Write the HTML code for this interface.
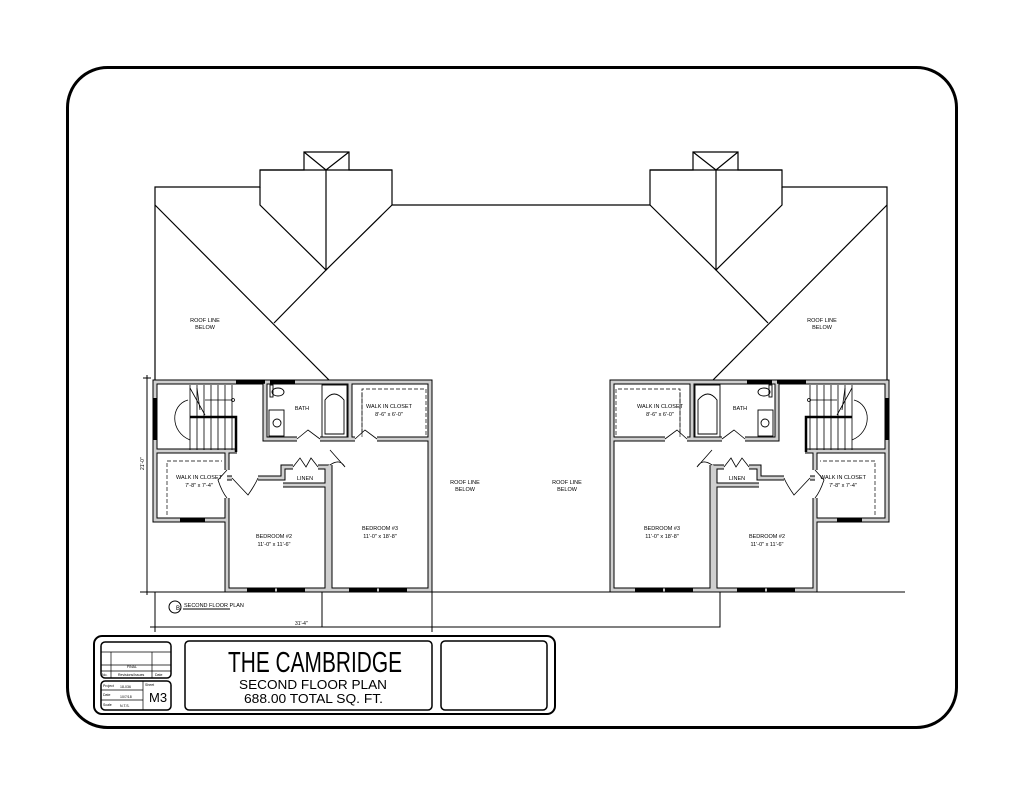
<!DOCTYPE html>
<html><head><meta charset="utf-8"><style>
html,body{margin:0;padding:0;background:#fff;}
svg{display:block;}
text{font-family:"Liberation Sans",sans-serif;fill:#000;}
</style></head><body>
<svg width="1024" height="791" viewBox="0 0 1024 791" xmlns="http://www.w3.org/2000/svg">
<defs>
<g id="half" fill="none" stroke="#000">
  <g stroke-width="1.2">
    <path d="M155,382 V187 H260 V170 H304 V152 H349 V170 H392 V205 H521"/>
    <path d="M260,170 H392"/>
    <path d="M304,152 L326,170 L349,152"/>
    <path d="M260,187 V205 L326,270 L392,205"/>
    <path d="M326,170 V270 L274,323"/>
    <path d="M155,205 L331,382"/>
  </g>
  <g stroke="#000" stroke-width="5">
    <path d="M155,382 H430 V590 H227 V520 H155 Z"/>
    <path d="M155,451 H237"/>
    <path d="M227,451 V470 M227,498 V520"/>
    <path d="M227,478 H232 M258,478 H283 V467 H293 M318,467 H327 V590"/>
    <path d="M283,485 H327"/>
    <path d="M265,382 V439 H297 M320,439 H355 M377,439 H430"/>
    <path d="M350,382 V439"/>
    <path d="M330,465 V590"/>
  </g>
  <g stroke="#cfcfcf" stroke-width="3">
    <path d="M155,382 H430 V590 H227 V520 H155 Z"/>
    <path d="M155,451 H237"/>
    <path d="M227,451 V470 M227,498 V520"/>
    <path d="M227,478 H232 M258,478 H283 V467 H293 M318,467 H327 V590"/>
    <path d="M283,485 H327"/>
    <path d="M265,382 V439 H297 M320,439 H355 M377,439 H430"/>
    <path d="M350,382 V439"/>
    <path d="M330,465 V590"/>
  </g>
  <g stroke="#000" stroke-width="3.5">
    <path d="M236,382 H265 M270,382 H295"/>
    <path d="M155,398 V440"/>
    <path d="M247,590 H275 M277,590 H305 M349,590 H377 M379,590 H407"/>
    <path d="M180,520 H205"/>
  </g>
  <g stroke-width="0.8">
    <path d="M190,385 V450 M197,385 V450 M204,385 V450 M211,385 V450 M218,385 V450 M225,385 V450 M232,385 V450"/>
    <path d="M190,388 L205,415 M197,388 L200,410"/>
    <path d="M188,400 C170,405 170,432 190,440"/>
    <circle cx="233" cy="400" r="1.5"/>
    <path d="M205,400 H232"/>
  </g>
  <path d="M190,417 H236 V452" stroke-width="2.5"/>
  <g stroke-width="0.9">
    <rect x="322" y="385" width="25" height="52"/>
    <path d="M325,434 V400 Q334,388 344,400 V434 Z"/>
    <ellipse cx="278" cy="392" rx="6" ry="4"/>
    <rect x="269" y="410" width="15" height="26"/>
    <circle cx="277" cy="423" r="4"/>
    <rect x="270" y="385" width="3" height="12"/>
  </g>
  <g stroke-width="0.8">
    <path d="M297,439 L308,430 L320,439"/>
    <path d="M355,439 L365,430 L377,439"/>
    <path d="M330,450 L345,467 Q340,458 330,465"/>
    <path d="M293,467 L300,458 L306,467 L311,458 L318,467"/>
    <path d="M232,478 L248,495 Q255,485 258,478"/>
    <path d="M227,470 L218,480 Q222,492 227,498"/>
  </g>
  <g stroke-width="0.7" stroke-dasharray="4,2">
    <path d="M167,515 V461 H222"/>
    <path d="M362,433 V389 H426 V435"/>
  </g>
  <path d="M362,437 V392" stroke-width="0.6"/>
</g>
</defs>

<rect x="67.5" y="67.5" width="889" height="660" rx="40" fill="none" stroke="#000" stroke-width="3"/>

<use href="#half"/>
<use href="#half" transform="translate(1042,0) scale(-1,1)"/>

<g fill="none" stroke="#000" stroke-width="1">
  <path d="M140,592 H905"/>
  <path d="M147,375 V595 M143,378 H151"/>
  <path d="M155,592 V632 M432,592 V632 M150,627 H437"/>
  <path d="M322,592 V627 H720 V592"/>
  <circle cx="175" cy="607" r="6"/>
  <path d="M183,609 H230"/>
</g>
<text x="178" y="610" font-size="6" text-anchor="middle">B</text>
<text x="184" y="607" font-size="5.5">SECOND FLOOR PLAN</text>
<text x="295" y="625" font-size="5">31'-4"</text>
<text x="144" y="470" font-size="5" transform="rotate(-90 144 470)">21'-0"</text>

<g font-size="5.5" text-anchor="middle">
<text x="205" y="322">ROOF LINE</text><text x="205" y="329">BELOW</text>
<text x="822" y="322">ROOF LINE</text><text x="822" y="329">BELOW</text>
<text x="465" y="484">ROOF LINE</text><text x="465" y="491">BELOW</text>
<text x="567" y="484">ROOF LINE</text><text x="567" y="491">BELOW</text>
<text x="302" y="410">BATH</text><text x="740" y="410">BATH</text>
<text x="389" y="408">WALK IN CLOSET</text><text x="389" y="416">8'-6" x 6'-0"</text>
<text x="660" y="408">WALK IN CLOSET</text><text x="660" y="416">8'-6" x 6'-0"</text>
<text x="199" y="479">WALK IN CLOSET</text><text x="199" y="487">7'-8" x 7'-4"</text>
<text x="843" y="479">WALK IN CLOSET</text><text x="843" y="487">7'-8" x 7'-4"</text>
<text x="305" y="480">LINEN</text><text x="737" y="480">LINEN</text>
<text x="274" y="538">BEDROOM #2</text><text x="274" y="546">11'-0" x 11'-6"</text>
<text x="767" y="538">BEDROOM #2</text><text x="767" y="546">11'-0" x 11'-6"</text>
<text x="380" y="530">BEDROOM #3</text><text x="380" y="538">11'-0" x 18'-8"</text>
<text x="662" y="530">BEDROOM #3</text><text x="662" y="538">11'-0" x 18'-8"</text>
</g>

<g fill="none" stroke="#000">
  <rect x="94" y="636" width="461" height="78" rx="8" stroke-width="2"/>
  <rect x="101" y="642" width="70" height="36" rx="4" stroke-width="1.5"/>
  <path d="M101,652 H171 M101,665 H171 M101,671 H171 M111,652 V678 M152,652 V678" stroke-width="0.7"/>
  <rect x="101" y="681" width="70" height="29" rx="4" stroke-width="1.5"/>
  <path d="M143,681 V710 M101,690 H143 M101,700 H143" stroke-width="0.7"/>
  <rect x="185" y="641" width="247" height="69" rx="4" stroke-width="1.5"/>
  <rect x="441" y="641" width="106" height="69" rx="4" stroke-width="1.5"/>
</g>
<g font-size="3.5">
<text x="127" y="668">FINAL</text>
<text x="102" y="676">No.</text><text x="118" y="676">Revisions/Issues</text><text x="155" y="676">Date</text>
<text x="103" y="687">Project</text><text x="120" y="688">18-036</text>
<text x="103" y="696">Date</text><text x="120" y="698">10/7/18</text>
<text x="103" y="706">Scale</text><text x="120" y="707">N.T.S.</text>
<text x="145" y="686">Sheet</text>
</g>
<text x="149" y="702" font-size="13">M3</text>
<text x="228" y="672" font-size="29" textLength="174" lengthAdjust="spacingAndGlyphs">THE CAMBRIDGE</text>
<text x="239" y="689" font-size="13" textLength="148" lengthAdjust="spacingAndGlyphs">SECOND FLOOR PLAN</text>
<text x="244" y="703" font-size="13" textLength="139" lengthAdjust="spacingAndGlyphs">688.00 TOTAL SQ. FT.</text>
</svg>
</body></html>
